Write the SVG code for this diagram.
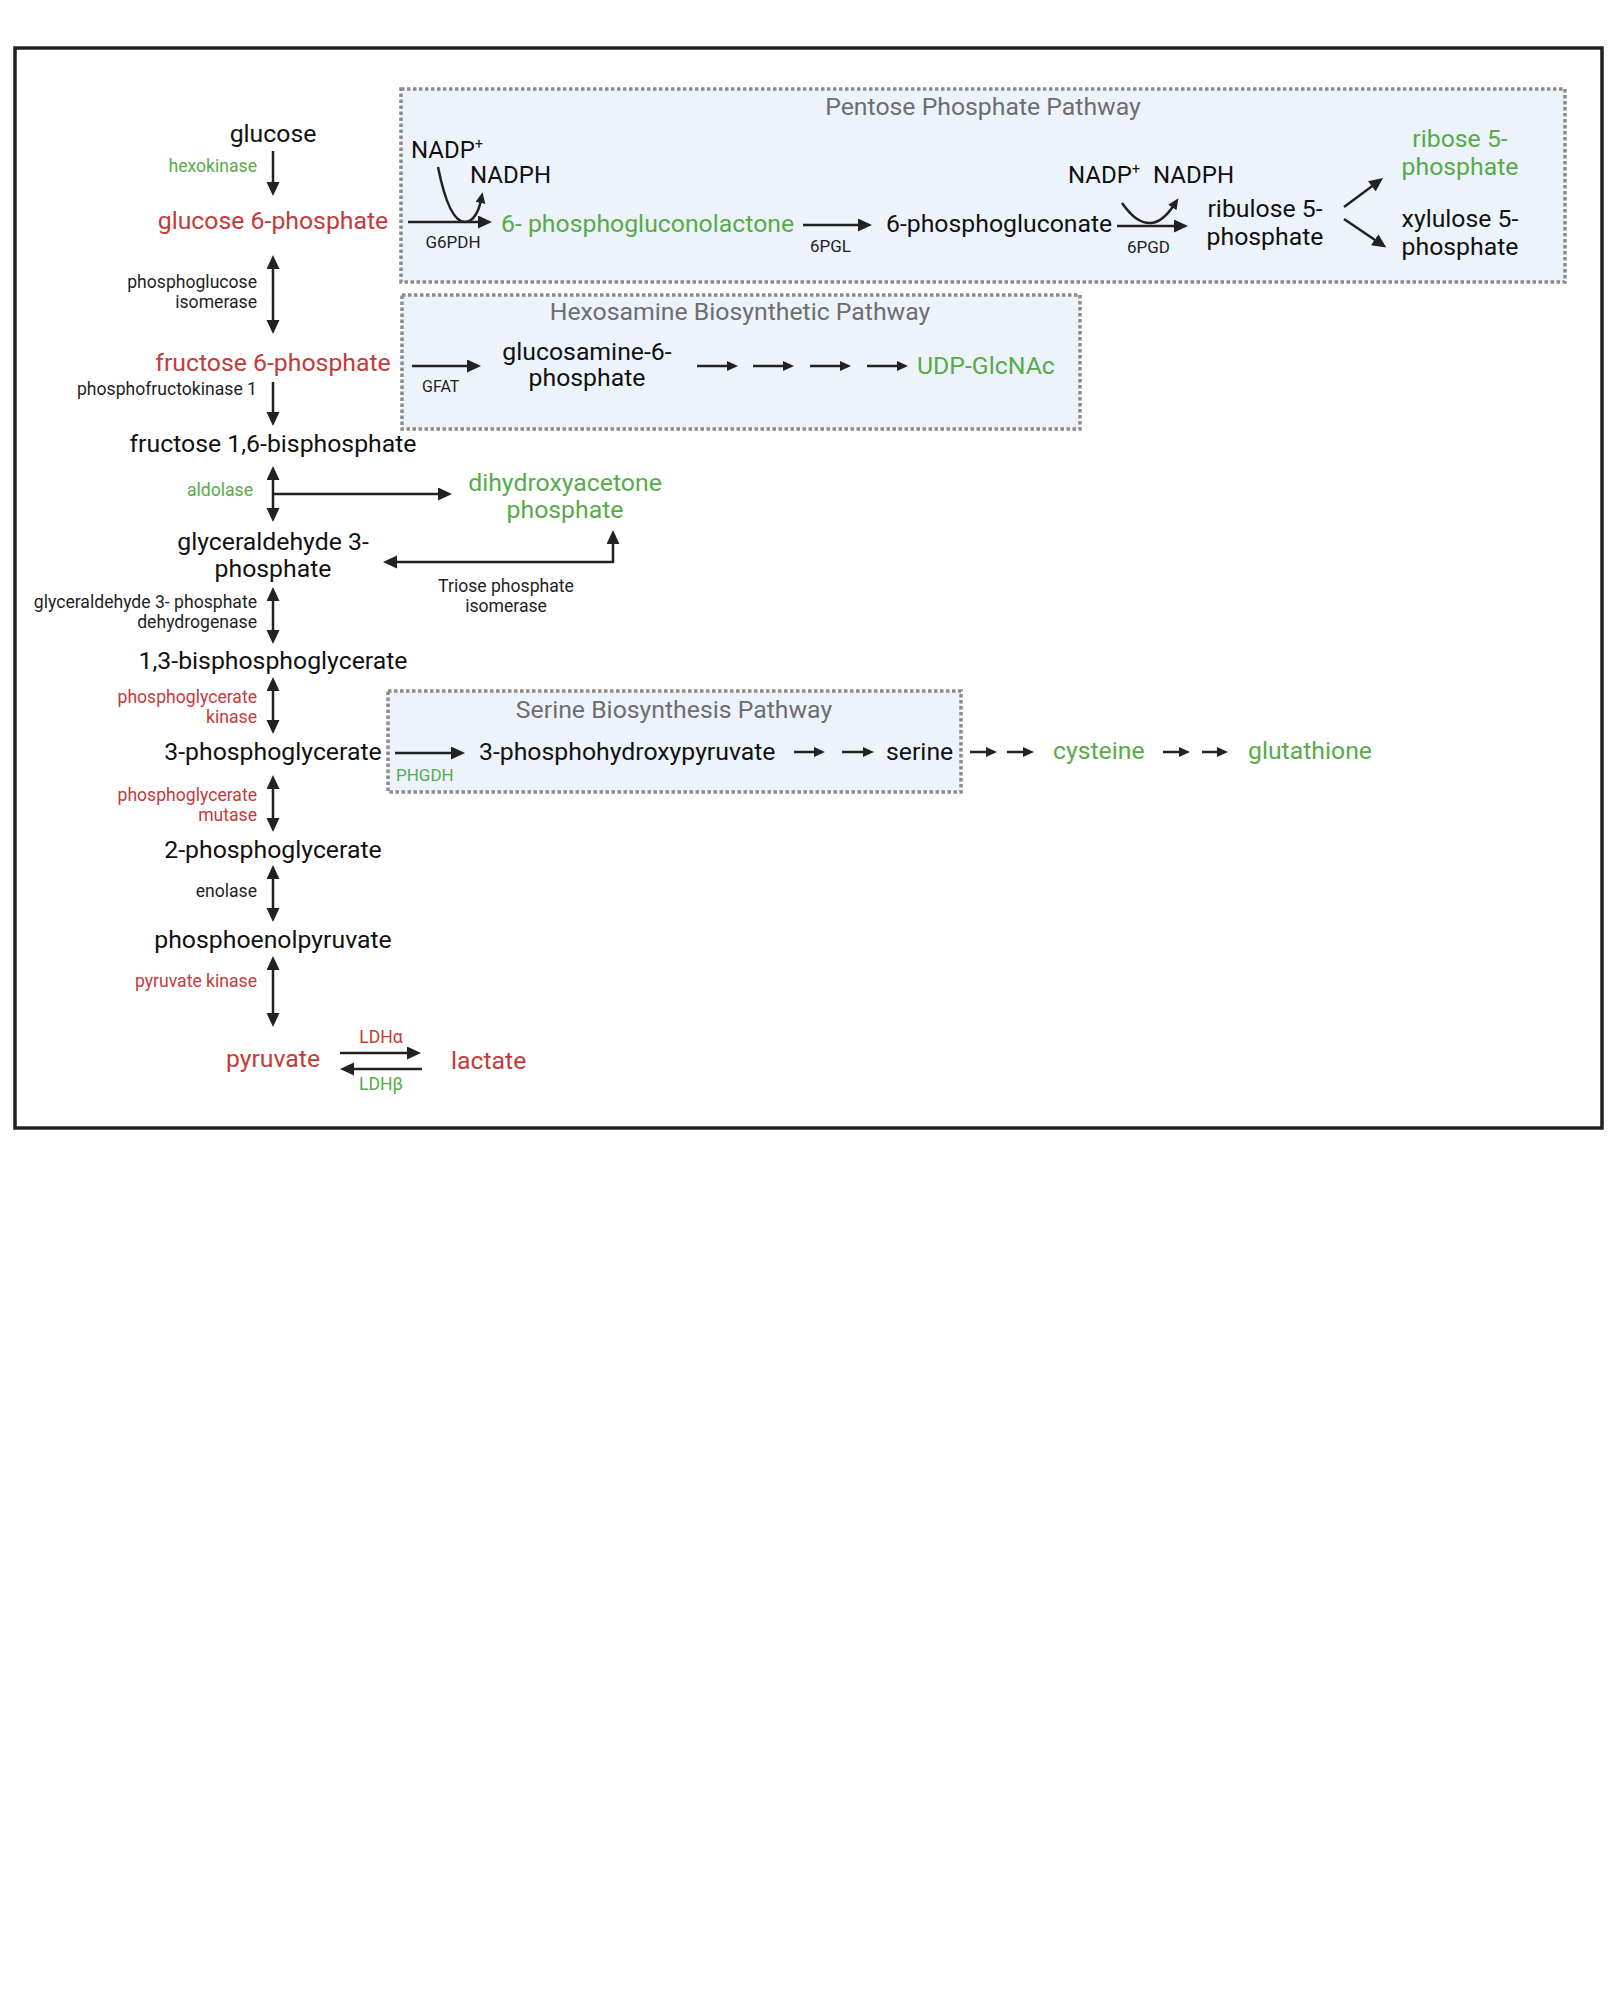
<svg xmlns="http://www.w3.org/2000/svg" width="1624" height="2000" viewBox="0 0 1624 2000">
<style>
text{font-family:Roboto,"Liberation Sans",sans-serif;fill:#111}
.m{font-size:24.8px}
.e{font-size:17.6px;fill:#1e1e1e}
.s{font-size:17px;fill:#1e1e1e}
.r{fill:#c53a3a}
.g{fill:#58ab4a}
.t{font-size:24.8px;fill:#6e6e6e}
.c{text-anchor:middle}
.end{text-anchor:end}
.box{fill:#edf3fb;stroke:#8c8c8c;stroke-width:3.5;stroke-dasharray:3.5 2.5}
.ln{fill:none;stroke:#222;stroke-width:2.5}
.a{marker-end:url(#ah)}
.aa{marker-end:url(#ah);marker-start:url(#ah)}
.as{marker-end:url(#as)}
</style>
<defs>
<marker id="ah" markerUnits="userSpaceOnUse" markerWidth="16" markerHeight="14" refX="4" refY="6.5" orient="auto-start-reverse"><path d="M0,0 L14,6.5 L0,13 Z" fill="#222"/></marker>
<marker id="as" markerUnits="userSpaceOnUse" markerWidth="13" markerHeight="11" refX="3" refY="5" orient="auto"><path d="M0,0 L11,5 L0,10 Z" fill="#222"/></marker>
</defs>
<rect x="0" y="0" width="1624" height="2000" fill="#fff"/>
<rect id="frame" x="15" y="48" width="1587" height="1080" fill="none" stroke="#222" stroke-width="3.5"/>

<g id="ppp-box"><rect class="box" x="401" y="89" width="1164" height="193"/><text class="t c" x="983" y="115">Pentose Phosphate Pathway</text></g>
<g id="hbp-box"><rect class="box" x="402" y="295" width="678" height="134"/><text class="t c" x="740" y="320">Hexosamine Biosynthetic Pathway</text></g>
<g id="sbp-box"><rect class="box" x="388" y="691" width="573" height="101"/><text class="t c" x="674" y="718">Serine Biosynthesis Pathway</text></g>

<g id="connectors">
<line class="ln a" x1="273" y1="151" x2="273" y2="186"/>
<line class="ln aa" x1="273" y1="265" x2="273" y2="324"/>
<line class="ln a" x1="273" y1="382" x2="273" y2="416"/>
<line class="ln aa" x1="273" y1="476" x2="273" y2="512"/>
<line class="ln a" x1="273" y1="494" x2="442" y2="494"/>
<path class="ln aa" d="M393,562 H613 V540"/>
<line class="ln aa" x1="273" y1="597" x2="273" y2="634"/>
<line class="ln aa" x1="273" y1="687" x2="273" y2="724"/>
<line class="ln aa" x1="273" y1="785" x2="273" y2="822"/>
<line class="ln aa" x1="273" y1="875" x2="273" y2="912"/>
<line class="ln aa" x1="273" y1="966" x2="273" y2="1017"/>
<line class="ln a" x1="340" y1="1053" x2="411" y2="1053"/>
<line class="ln a" x1="422" y1="1069" x2="350" y2="1069"/>
<line class="ln a" x1="408" y1="222" x2="482" y2="222"/>
<path class="ln as" d="M438,167 C446,207 455,222 465,222 C474,222 479,210 481,200"/>
<line class="ln a" x1="803" y1="225" x2="862" y2="225"/>
<line class="ln a" x1="1117" y1="226" x2="1178" y2="226"/>
<path class="ln as" d="M1122,203 C1132,217 1140,223 1150,223 C1160,223 1168,214 1174,205"/>
<line class="ln a" x1="1344" y1="207" x2="1375" y2="184"/>
<line class="ln a" x1="1344" y1="219" x2="1378" y2="242"/>
<line class="ln a" x1="412" y1="366" x2="471" y2="366"/>
<line class="ln as" x1="697" y1="366" x2="730" y2="366"/>
<line class="ln as" x1="753" y1="366" x2="786" y2="366"/>
<line class="ln as" x1="810" y1="366" x2="843" y2="366"/>
<line class="ln as" x1="867" y1="366" x2="900" y2="366"/>
<line class="ln a" x1="395" y1="753" x2="455" y2="753"/>
<line class="ln as" x1="794" y1="752" x2="817" y2="752"/>
<line class="ln as" x1="842" y1="752" x2="866" y2="752"/>
<line class="ln as" x1="970" y1="752" x2="989" y2="752"/>
<line class="ln as" x1="1007" y1="752" x2="1026" y2="752"/>
<line class="ln as" x1="1163" y1="752" x2="1182" y2="752"/>
<line class="ln as" x1="1202" y1="752" x2="1220" y2="752"/>
</g>

<g id="glucose"><text class="m c" x="273" y="142">glucose</text></g>
<g id="hexokinase"><text class="e g end" x="257" y="172">hexokinase</text></g>
<g id="g6p"><text class="m r c" x="273" y="229">glucose 6-phosphate</text></g>
<g id="pgi"><text class="e end" x="257" y="288">phosphoglucose</text><text class="e end" x="257" y="308">isomerase</text></g>
<g id="f6p"><text class="m r c" x="273" y="371">fructose 6-phosphate</text></g>
<g id="pfk"><text class="e end" x="257" y="395">phosphofructokinase 1</text></g>
<g id="f16bp"><text class="m c" x="273" y="452">fructose 1,6-bisphosphate</text></g>
<g id="aldolase"><text class="e g end" x="253" y="496">aldolase</text></g>
<g id="dhap"><text class="m g c" x="565" y="491">dihydroxyacetone</text><text class="m g c" x="565" y="518">phosphate</text></g>
<g id="g3p"><text class="m c" x="273" y="550">glyceraldehyde 3-</text><text class="m c" x="273" y="577">phosphate</text></g>
<g id="tpi"><text class="e c" x="506" y="592">Triose phosphate</text><text class="e c" x="506" y="612">isomerase</text></g>
<g id="gapdh"><text class="e end" x="257" y="608">glyceraldehyde 3- phosphate</text><text class="e end" x="257" y="628">dehydrogenase</text></g>
<g id="bpg"><text class="m c" x="273" y="669">1,3-bisphosphoglycerate</text></g>
<g id="pgk"><text class="e r end" x="257" y="703">phosphoglycerate</text><text class="e r end" x="257" y="723">kinase</text></g>
<g id="pg3"><text class="m c" x="273" y="760">3-phosphoglycerate</text></g>
<g id="pgm"><text class="e r end" x="257" y="801">phosphoglycerate</text><text class="e r end" x="257" y="821">mutase</text></g>
<g id="pg2"><text class="m c" x="273" y="858">2-phosphoglycerate</text></g>
<g id="enolase"><text class="e end" x="257" y="897">enolase</text></g>
<g id="pep"><text class="m c" x="273" y="948">phosphoenolpyruvate</text></g>
<g id="pk"><text class="e r end" x="257" y="987">pyruvate kinase</text></g>
<g id="pyruvate"><text class="m r c" x="273" y="1067">pyruvate</text></g>
<g id="ldh"><text class="e r c" x="381" y="1043">LDHα</text><text class="e g c" x="381" y="1090">LDHβ</text></g>
<g id="lactate"><text class="m r" x="451" y="1069">lactate</text></g>

<g id="nadp1"><text style="font-size:24px" x="411" y="158">NADP<tspan font-size="14" dy="-9">+</tspan></text></g>
<g id="nadph1"><text style="font-size:24px" x="470" y="183">NADPH</text></g>
<g id="g6pdh"><text class="s c" x="453" y="248">G6PDH</text></g>
<g id="pgl6"><text class="m g" x="501" y="232">6- phosphogluconolactone</text></g>
<g id="e6pgl"><text class="s" x="810" y="252">6PGL</text></g>
<g id="pg6"><text class="m" x="886" y="232">6-phosphogluconate</text></g>
<g id="nadp2"><text style="font-size:24px" x="1068" y="183">NADP<tspan font-size="14" dy="-9">+</tspan></text></g>
<g id="nadph2"><text style="font-size:24px" x="1153" y="183">NADPH</text></g>
<g id="e6pgd"><text class="s" x="1127" y="253">6PGD</text></g>
<g id="ru5p"><text class="m c" x="1265" y="217">ribulose 5-</text><text class="m c" x="1265" y="245">phosphate</text></g>
<g id="r5p"><text class="m g c" x="1460" y="147">ribose 5-</text><text class="m g c" x="1460" y="175">phosphate</text></g>
<g id="xu5p"><text class="m c" x="1460" y="227">xylulose 5-</text><text class="m c" x="1460" y="255">phosphate</text></g>

<g id="gfat"><text class="s" style="font-size:16px" x="422" y="392">GFAT</text></g>
<g id="gln6p"><text class="m c" x="587" y="360">glucosamine-6-</text><text class="m c" x="587" y="386">phosphate</text></g>
<g id="udpglcnac"><text class="m g" x="917" y="374">UDP-GlcNAc</text></g>

<g id="phgdh"><text class="s g" x="396" y="781">PHGDH</text></g>
<g id="php"><text class="m" x="479" y="760">3-phosphohydroxypyruvate</text></g>
<g id="serine"><text class="m" x="886" y="760">serine</text></g>
<g id="cysteine"><text class="m g" x="1053" y="759">cysteine</text></g>
<g id="glutathione"><text class="m g" x="1248" y="759">glutathione</text></g>
</svg>
